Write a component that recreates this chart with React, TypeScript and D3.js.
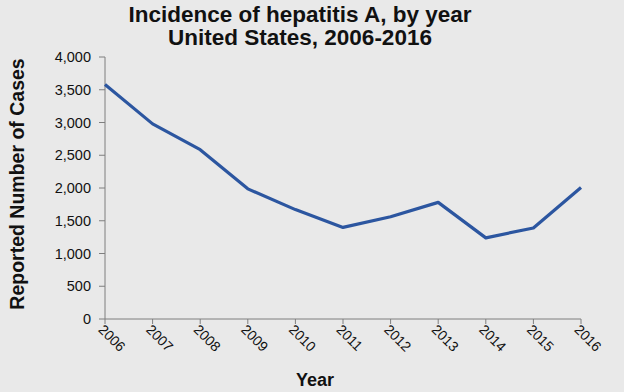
import React from 'react';
import * as d3 from 'd3';

const years = [2006, 2007, 2008, 2009, 2010, 2011, 2012, 2013, 2014, 2015, 2016];
const cases = [3579, 2979, 2585, 1987, 1670, 1398, 1562, 1781, 1239, 1390, 2007];
const yTicks = [0, 500, 1000, 1500, 2000, 2500, 3000, 3500, 4000];

const W = 624;
const H = 392;
const margin = { left: 105, right: 43, top: 57, bottom: 73 };

export default function App() {
  const x = d3
    .scaleLinear()
    .domain([2006, 2016])
    .range([margin.left, W - margin.right]);
  const y = d3
    .scaleLinear()
    .domain([0, 4000])
    .range([H - margin.bottom, margin.top]);

  const line = d3
    .line<number>()
    .x((d, i) => x(years[i]))
    .y((d) => y(d));

  const fmt = d3.format(',');
  const font = 'Liberation Sans, Arial, sans-serif';
  const axisColor = '#7f7f7f';

  return (
    <svg
      width={W}
      height={H}
      style={{ position: 'absolute', left: 0, top: 0, background: '#e9e9e9' }}
      fontFamily={font}
    >
      <rect width={W} height={H} fill="#e9e9e9" />
      <text x={300} y={22} textAnchor="middle" fontSize={22.5} fontWeight="bold" fill="#111">
        Incidence of hepatitis A, by year
      </text>
      <text x={300} y={45} textAnchor="middle" fontSize={22.5} fontWeight="bold" fill="#111">
        United States, 2006-2016
      </text>

      {/* y axis */}
      <line x1={x(2006)} x2={x(2006)} y1={y(0)} y2={y(4000)} stroke={axisColor} />
      {yTicks.map((t) => (
        <g key={t}>
          <line x1={x(2006) - 6} x2={x(2006)} y1={y(t)} y2={y(t)} stroke={axisColor} />
          <text x={91} y={y(t)} dy="0.35em" textAnchor="end" fontSize={14.5} fill="#111">
            {fmt(t)}
          </text>
        </g>
      ))}

      {/* x axis */}
      <line x1={x(2006)} x2={x(2016)} y1={y(0)} y2={y(0)} stroke={axisColor} />
      {years.map((yr) => (
        <g key={yr}>
          <line x1={x(yr)} x2={x(yr)} y1={y(0)} y2={y(0) + 5} stroke={axisColor} />
          <text
            transform={`translate(${x(yr) - 4}, ${y(0) + 8}) rotate(45)`}
            fontSize={14}
            dy="0.35em"
            fill="#111"
          >
            {yr}
          </text>
        </g>
      ))}

      <path d={line(cases) || ''} fill="none" stroke="#2c56a0" strokeWidth={3.2} strokeLinejoin="round" />

      <text
        transform={`translate(24, 184) rotate(-90)`}
        textAnchor="middle"
        fontSize={19.5}
        fontWeight="bold"
        fill="#111"
      >
        Reported Number of Cases
      </text>
      <text x={315} y={386} textAnchor="middle" fontSize={18} fontWeight="bold" fill="#111">
        Year
      </text>
    </svg>
  );
}
